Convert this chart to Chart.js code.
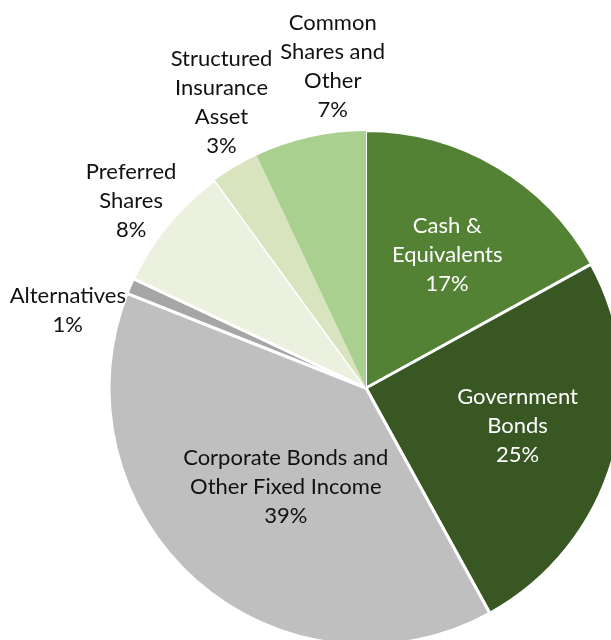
<!DOCTYPE html>
<html>
<head>
<meta charset="utf-8">
<script src="https://cdn.jsdelivr.net/npm/chart.js@4"></script>
<style>
  html, body { margin: 0; padding: 0; width: 611px; height: 640px; overflow: hidden; background: #ffffff; }
  #wrap { position: absolute; left: -34px; top: -12px; width: 800px; height: 800px; }
</style>
</head>
<body>
<div id="wrap"><canvas id="c" width="800" height="800"></canvas></div>
<script>
// ---- data ----
const categories = [
  'Cash & Equivalents',
  'Government Bonds',
  'Corporate Bonds and Other Fixed Income',
  'Alternatives',
  'Preferred Shares',
  'Structured Insurance Asset',
  'Common Shares and Other'
];
const labelLines = [
  ['Cash &', 'Equivalents'],
  ['Government', 'Bonds'],
  ['Corporate Bonds and', 'Other Fixed Income'],
  ['Alternatives'],
  ['Preferred', 'Shares'],
  ['Structured', 'Insurance', 'Asset'],
  ['Common', 'Shares and', 'Other']
];
const values = [17, 25, 39, 1, 8, 3, 7];

// ---- style ----
const sliceColors = ['#548235', '#385723', '#BFBFBF', '#A6A6A6', '#EBF0DF', '#D8E4BE', '#A9D08E'];
const sliceBorders = [2, 3, 3, 3, 3, 0, 0];
const labelColors = ['#ffffff', '#ffffff', '#111111', '#111111', '#111111', '#111111', '#111111'];
// label placement: [angle offset from slice middle (deg), distance as fraction of radius]
const labelPlace = [[0.7, 0.608], [-2.1, 0.608], [-2.5, 0.497], [-8.8, 1.199], [-1.1, 1.168], [3.8, 1.247], [6.7, 1.259]];
const FONT = '22px Lato';
const LINE_H = 29;

const labelPlugin = {
  id: 'sliceLabels',
  afterDatasetsDraw(chart) {
    const meta = chart.getDatasetMeta(0);
    const ctx = chart.ctx;
    ctx.save();
    ctx.font = FONT;
    ctx.textAlign = 'center';
    ctx.textBaseline = 'middle';
    meta.data.forEach((arc, i) => {
      const p = arc.getProps(['x', 'y', 'startAngle', 'endAngle', 'outerRadius'], true);
      const mid = (p.startAngle + p.endAngle) / 2 + labelPlace[i][0] * Math.PI / 180;
      const r = labelPlace[i][1] * p.outerRadius;
      const cx = p.x + Math.cos(mid) * r;
      const cy = p.y + Math.sin(mid) * r;
      const lines = labelLines[i].concat([values[i] + '%']);
      const top = cy - (lines.length - 1) * LINE_H / 2;
      ctx.fillStyle = labelColors[i];
      lines.forEach((t, k) => ctx.fillText(t, cx, top + k * LINE_H));
    });
    ctx.restore();
  }
};

new Chart(document.getElementById('c'), {
  type: 'pie',
  data: {
    labels: categories,
    datasets: [{
      data: values,
      backgroundColor: sliceColors,
      borderColor: '#ffffff',
      borderWidth: sliceBorders,
      radius: 257
    }]
  },
  options: {
    responsive: false,
    animation: false,
    devicePixelRatio: 1,
    layout: { padding: 0 },
    plugins: {
      legend: { display: false },
      tooltip: { enabled: false }
    }
  },
  plugins: [labelPlugin]
});
</script>
</body>
</html>
